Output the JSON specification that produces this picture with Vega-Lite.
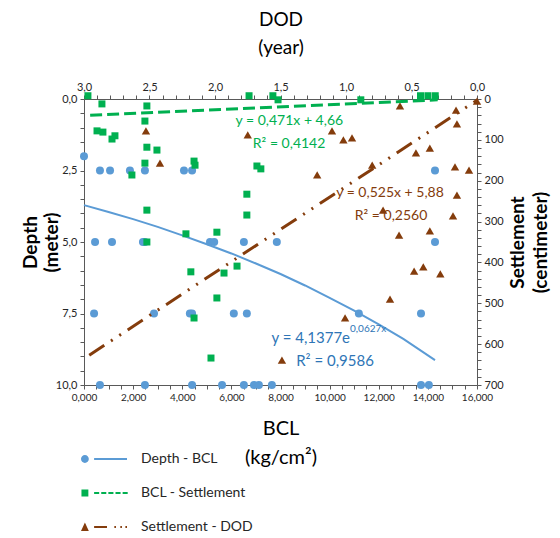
{
  "$schema": "https://vega.github.io/schema/vega-lite/v6.json",
  "width": 393,
  "height": 286,
  "autosize": {"type": "none"},
  "padding": {"left": 84, "top": 99, "right": 83, "bottom": 153},
  "background": "white",
  "config": {
    "font": "Lato",
    "view": {"stroke": null},
    "axis": {
      "domainColor": "#595959",
      "tickColor": "#595959",
      "labelColor": "#262626",
      "titleColor": "#000000",
      "grid": false,
      "labelOverlap": false,
      "labelFlush": false,
      "labelBound": false,
      "titleFontWeight": "normal",
      "labelFont": "Lato",
      "titleFont": "Lato"
    },
    "legend": {
      "orient": "none",
      "legendX": -3,
      "legendY": 337,
      "padding": 0,
      "direction": "vertical",
      "symbolSize": 2116,
      "symbolStrokeWidth": 0,
      "labelFont": "Lato",
      "labelFontSize": 14,
      "labelColor": "#262626",
      "labelOffset": 14,
      "rowPadding": 4
    }
  },
  "datasets": {
    "depthPts": [
      {"bcl": 0.0, "depth": 2.0, "series": "Depth - BCL"},
      {"bcl": 0.65, "depth": 2.5, "series": "Depth - BCL"},
      {"bcl": 1.06, "depth": 2.5, "series": "Depth - BCL"},
      {"bcl": 1.87, "depth": 2.5, "series": "Depth - BCL"},
      {"bcl": 2.48, "depth": 2.5, "series": "Depth - BCL"},
      {"bcl": 4.07, "depth": 2.5, "series": "Depth - BCL"},
      {"bcl": 4.4, "depth": 2.5, "series": "Depth - BCL"},
      {"bcl": 14.29, "depth": 2.5, "series": "Depth - BCL"},
      {"bcl": 0.45, "depth": 5, "series": "Depth - BCL"},
      {"bcl": 1.14, "depth": 5, "series": "Depth - BCL"},
      {"bcl": 2.4, "depth": 5, "series": "Depth - BCL"},
      {"bcl": 2.48, "depth": 5, "series": "Depth - BCL"},
      {"bcl": 5.13, "depth": 5, "series": "Depth - BCL"},
      {"bcl": 5.3, "depth": 5, "series": "Depth - BCL"},
      {"bcl": 6.51, "depth": 5, "series": "Depth - BCL"},
      {"bcl": 7.85, "depth": 5, "series": "Depth - BCL"},
      {"bcl": 14.29, "depth": 5, "series": "Depth - BCL"},
      {"bcl": 0.41, "depth": 7.5, "series": "Depth - BCL"},
      {"bcl": 2.85, "depth": 7.5, "series": "Depth - BCL"},
      {"bcl": 4.31, "depth": 7.5, "series": "Depth - BCL"},
      {"bcl": 4.4, "depth": 7.5, "series": "Depth - BCL"},
      {"bcl": 6.1, "depth": 7.5, "series": "Depth - BCL"},
      {"bcl": 6.63, "depth": 7.5, "series": "Depth - BCL"},
      {"bcl": 11.19, "depth": 7.5, "series": "Depth - BCL"},
      {"bcl": 13.72, "depth": 7.5, "series": "Depth - BCL"},
      {"bcl": 0.65, "depth": 10, "series": "Depth - BCL"},
      {"bcl": 2.48, "depth": 10, "series": "Depth - BCL"},
      {"bcl": 4.4, "depth": 10, "series": "Depth - BCL"},
      {"bcl": 5.62, "depth": 10, "series": "Depth - BCL"},
      {"bcl": 6.51, "depth": 10, "series": "Depth - BCL"},
      {"bcl": 6.92, "depth": 10, "series": "Depth - BCL"},
      {"bcl": 7.12, "depth": 10, "series": "Depth - BCL"},
      {"bcl": 7.65, "depth": 10, "series": "Depth - BCL"},
      {"bcl": 13.72, "depth": 10, "series": "Depth - BCL"},
      {"bcl": 14.04, "depth": 10, "series": "Depth - BCL"}
    ],
    "depthFit": [
      {"bcl": 0, "depth": 3.71},
      {"bcl": 1, "depth": 3.95},
      {"bcl": 2, "depth": 4.2},
      {"bcl": 3, "depth": 4.47},
      {"bcl": 4, "depth": 4.77},
      {"bcl": 5, "depth": 5.08},
      {"bcl": 6, "depth": 5.4},
      {"bcl": 7, "depth": 5.75},
      {"bcl": 8, "depth": 6.12},
      {"bcl": 9, "depth": 6.52},
      {"bcl": 10, "depth": 6.95},
      {"bcl": 11, "depth": 7.4},
      {"bcl": 12, "depth": 7.88},
      {"bcl": 13, "depth": 8.39},
      {"bcl": 14.29, "depth": 9.13}
    ],
    "depthText": [
      {"bcl": 10.83, "depth": 8.36, "text": "y = 4,1377e"}
    ],
    "depthR2": [
      {"bcl": 10.22, "depth": 9.16, "text": "R² = 0,9586"}
    ],
    "depthSup": [
      {"bcl": 10.83, "depth": 8.04, "text": "0,0627x"}
    ],
    "greenPts": [
      {"bcl": 0.16, "settlement": -8, "series": "BCL - Settlement"},
      {"bcl": 0.73, "settlement": 12, "series": "BCL - Settlement"},
      {"bcl": 2.56, "settlement": 17, "series": "BCL - Settlement"},
      {"bcl": 2.48, "settlement": 54, "series": "BCL - Settlement"},
      {"bcl": 0.53, "settlement": 78, "series": "BCL - Settlement"},
      {"bcl": 0.77, "settlement": 81, "series": "BCL - Settlement"},
      {"bcl": 1.26, "settlement": 90, "series": "BCL - Settlement"},
      {"bcl": 1.14, "settlement": 98, "series": "BCL - Settlement"},
      {"bcl": 2.56, "settlement": 118, "series": "BCL - Settlement"},
      {"bcl": 2.97, "settlement": 125, "series": "BCL - Settlement"},
      {"bcl": 2.48, "settlement": 157, "series": "BCL - Settlement"},
      {"bcl": 4.48, "settlement": 152, "series": "BCL - Settlement"},
      {"bcl": 4.52, "settlement": 162, "series": "BCL - Settlement"},
      {"bcl": 1.95, "settlement": 186, "series": "BCL - Settlement"},
      {"bcl": 2.56, "settlement": 272, "series": "BCL - Settlement"},
      {"bcl": 4.15, "settlement": 330, "series": "BCL - Settlement"},
      {"bcl": 2.56, "settlement": 350, "series": "BCL - Settlement"},
      {"bcl": 5.41, "settlement": 326, "series": "BCL - Settlement"},
      {"bcl": 6.72, "settlement": -8, "series": "BCL - Settlement"},
      {"bcl": 7.69, "settlement": -8, "series": "BCL - Settlement"},
      {"bcl": 7.9, "settlement": 2, "series": "BCL - Settlement"},
      {"bcl": 7.04, "settlement": 164, "series": "BCL - Settlement"},
      {"bcl": 7.2, "settlement": 171, "series": "BCL - Settlement"},
      {"bcl": 6.63, "settlement": 233, "series": "BCL - Settlement"},
      {"bcl": 6.63, "settlement": 284, "series": "BCL - Settlement"},
      {"bcl": 11.27, "settlement": 2, "series": "BCL - Settlement"},
      {"bcl": 13.7, "settlement": -8, "series": "BCL - Settlement"},
      {"bcl": 14.0, "settlement": -8, "series": "BCL - Settlement"},
      {"bcl": 14.3, "settlement": -8, "series": "BCL - Settlement"},
      {"bcl": 4.35, "settlement": 423, "series": "BCL - Settlement"},
      {"bcl": 4.48, "settlement": 536, "series": "BCL - Settlement"},
      {"bcl": 5.17, "settlement": 634, "series": "BCL - Settlement"},
      {"bcl": 5.41, "settlement": 487, "series": "BCL - Settlement"},
      {"bcl": 5.7, "settlement": 426, "series": "BCL - Settlement"},
      {"bcl": 6.23, "settlement": 409, "series": "BCL - Settlement"}
    ],
    "greenFit": [
      {"bcl": 0.25, "settlement": 40},
      {"bcl": 14.4, "settlement": 2}
    ],
    "greenText": [
      {"bcl": 8.36, "settlement": 54, "text": "y = 0,471x + 4,66"},
      {"bcl": 8.35, "settlement": 110, "text": "R² = 0,4142"}
    ],
    "brownPts": [
      {"dod": 2.527, "settlement": 78, "series": "Settlement - DOD"},
      {"dod": 2.42, "settlement": 157, "series": "Settlement - DOD"},
      {"dod": 1.75, "settlement": 88, "series": "Settlement - DOD"},
      {"dod": 1.107, "settlement": 78, "series": "Settlement - DOD"},
      {"dod": 1.02, "settlement": 100, "series": "Settlement - DOD"},
      {"dod": 0.954, "settlement": 95, "series": "Settlement - DOD"},
      {"dod": 1.22, "settlement": 186, "series": "Settlement - DOD"},
      {"dod": 0.588, "settlement": 17, "series": "Settlement - DOD"},
      {"dod": 0.16, "settlement": 27, "series": "Settlement - DOD"},
      {"dod": 0.153, "settlement": 61, "series": "Settlement - DOD"},
      {"dod": 0.466, "settlement": 132, "series": "Settlement - DOD"},
      {"dod": 0.36, "settlement": 120, "series": "Settlement - DOD"},
      {"dod": 0.8, "settlement": 162, "series": "Settlement - DOD"},
      {"dod": 0.168, "settlement": 166, "series": "Settlement - DOD"},
      {"dod": 0.061, "settlement": 174, "series": "Settlement - DOD"},
      {"dod": 0.153, "settlement": 235, "series": "Settlement - DOD"},
      {"dod": 0.717, "settlement": 272, "series": "Settlement - DOD"},
      {"dod": 0.183, "settlement": 286, "series": "Settlement - DOD"},
      {"dod": 0.595, "settlement": 333, "series": "Settlement - DOD"},
      {"dod": 0.36, "settlement": 323, "series": "Settlement - DOD"},
      {"dod": 0.48, "settlement": 421, "series": "Settlement - DOD"},
      {"dod": 0.41, "settlement": 411, "series": "Settlement - DOD"},
      {"dod": 0.28, "settlement": 428, "series": "Settlement - DOD"},
      {"dod": 0.664, "settlement": 490, "series": "Settlement - DOD"},
      {"dod": 1.007, "settlement": 536, "series": "Settlement - DOD"},
      {"dod": 1.489, "settlement": 639, "series": "Settlement - DOD"},
      {"dod": 0.0, "settlement": 5, "series": "Settlement - DOD"}
    ],
    "brownFit": [
      {"dod": 2.96, "settlement": 627},
      {"dod": 0.0, "settlement": 3}
    ],
    "brownText": [
      {"dod": 0.664, "settlement": 230, "text": "y = 0,525x + 5,88"},
      {"dod": 0.656, "settlement": 287, "text": "R² = 0,2560"}
    ],
    "legendRows": [
      {"series": "Depth - BCL"},
      {"series": "BCL - Settlement"},
      {"series": "Settlement - DOD"}
    ]
  },
  "layer": [
    {
      "encoding": {
        "x": {
          "field": "bcl", "type": "quantitative",
          "scale": {"domain": [0, 16], "nice": false, "zero": false},
          "axis": {
            "orient": "bottom",
            "values": [0,0.5,1,1.5,2,2.5,3,3.5,4,4.5,5,5.5,6,6.5,7,7.5,8,8.5,9,9.5,10,10.5,11,11.5,12,12.5,13,13.5,14,14.5,15,15.5,16],
            "labelExpr": "datum.value % 2 === 0 ? replace(format(datum.value, '.3f'), '.', ',') : ''",
            "labelFontSize": 10,
            "ticks": true,
            "tickSize": 4,
            "labelPadding": 3,
            "title": ["BCL", "(kg/cm²)"],
            "titleFontSize": 20,
            "titleLineHeight": 29,
            "titlePadding": 16
          }
        },
        "y": {
          "field": "depth", "type": "quantitative",
          "scale": {"domain": [0, 10], "nice": false, "zero": false, "reverse": true},
          "axis": {
            "orient": "left",
            "values": [0,0.5,1,1.5,2,2.5,3,3.5,4,4.5,5,5.5,6,6.5,7,7.5,8,8.5,9,9.5,10],
            "labelExpr": "datum.value % 2.5 === 0 ? replace(format(datum.value, '.1f'), '.', ',') : ''",
            "labelFontSize": 11,
            "ticks": true,
            "tickSize": 4,
            "labelPadding": 3,
            "title": ["Depth", "(meter)"],
            "titleFontSize": 19,
            "titleFontWeight": "bold",
            "titleLineHeight": 21,
            "titlePadding": -6
          }
        }
      },
      "layer": [
        {
          "data": {"name": "depthFit"},
          "mark": {"type": "line", "color": "#5B9BD5", "strokeWidth": 2}
        },
        {
          "data": {"name": "depthPts"},
          "mark": {"type": "point", "shape": "circle", "filled": true, "size": 64, "opacity": 1},
          "encoding": {
            "color": {
              "field": "series", "type": "nominal",
              "scale": {"domain": ["Depth - BCL", "BCL - Settlement", "Settlement - DOD"], "range": ["#5B9BD5", "#00B050", "#843C0C"]},
              "legend": {"title": null}
            }
          }
        },
        {
          "data": {"name": "depthText"},
          "mark": {"type": "text", "align": "right", "baseline": "middle", "fontSize": 15, "color": "#2E75B6"},
          "encoding": {"text": {"field": "text"}}
        },
        {
          "data": {"name": "depthR2"},
          "mark": {"type": "text", "align": "center", "baseline": "middle", "fontSize": 15, "color": "#2E75B6"},
          "encoding": {"text": {"field": "text"}}
        },
        {
          "data": {"name": "depthSup"},
          "mark": {"type": "text", "align": "left", "baseline": "middle", "fontSize": 10, "color": "#2E75B6"},
          "encoding": {"text": {"field": "text"}}
        },
        {
          "data": {"name": "legendRows"},
          "transform": [{"filter": "false"}],
          "mark": {"type": "point", "filled": true, "opacity": 1},
          "encoding": {
            "color": {
              "field": "series", "type": "nominal",
              "scale": {"domain": ["Depth - BCL", "BCL - Settlement", "Settlement - DOD"], "range": ["#5B9BD5", "#00B050", "#843C0C"]},
              "legend": {"title": null}
            },
            "shape": {
              "field": "series", "type": "nominal",
              "scale": {
                "domain": ["Depth - BCL", "BCL - Settlement", "Settlement - DOD"],
                "range": [
                  "M-1,0A0.17,0.17,0,1,0,-0.66,0A0.17,0.17,0,1,0,-1,0Z M-0.43,-0.045H1V0.045H-0.43Z",
                  "M-0.98,-0.15H-0.68V0.15H-0.98Z M-0.43,-0.045H-0.21V0.045H-0.43Z M-0.12,-0.045H0.1V0.045H-0.12Z M0.19,-0.045H0.41V0.045H0.19Z M0.5,-0.045H0.72V0.045H0.5Z M0.81,-0.045H1.03V0.045H0.81Z",
                  "M-1,0.17L-0.66,0.17L-0.83,-0.2Z M-0.43,-0.045H0.13V0.045H-0.43Z M0.45,-0.045H0.52V0.045H0.45Z M0.71,-0.045H0.78V0.045H0.71Z M0.93,-0.045H1V0.045H0.93Z"
                ]
              },
              "legend": {"title": null}
            }
          }
        }
      ]
    },
    {
      "encoding": {
        "x": {
          "field": "dod", "type": "quantitative",
          "scale": {"domain": [0, 3], "nice": false, "zero": false, "reverse": true},
          "axis": {
            "orient": "top",
            "values": [0,0.1,0.2,0.3,0.4,0.5,0.6,0.7,0.8,0.9,1,1.1,1.2,1.3,1.4,1.5,1.6,1.7,1.8,1.9,2,2.1,2.2,2.3,2.4,2.5,2.6,2.7,2.8,2.9,3],
            "labelExpr": "abs(datum.value * 2 - round(datum.value * 2)) < 0.001 ? replace(format(datum.value, '.1f'), '.', ',') : ''",
            "labelFontSize": 11,
            "ticks": true,
            "tickSize": 4,
            "labelPadding": 3,
            "title": ["DOD", "(year)"],
            "titleFontSize": 19,
            "titleLineHeight": 28,
            "titlePadding": 24
          }
        },
        "y": {
          "field": "settlement", "type": "quantitative",
          "scale": {"domain": [0, 700], "nice": false, "zero": false, "reverse": true},
          "axis": {
            "orient": "right",
            "values": [0,20,40,60,80,100,120,140,160,180,200,220,240,260,280,300,320,340,360,380,400,420,440,460,480,500,520,540,560,580,600,620,640,660,680,700],
            "labelExpr": "datum.value % 100 === 0 ? format(datum.value, 'd') : ''",
            "labelFontSize": 11,
            "ticks": true,
            "tickSize": 4,
            "labelPadding": 3,
            "title": ["Settlement", "(centimeter)"],
            "titleAngle": -90,
            "titleFontSize": 19,
            "titleFontWeight": "bold",
            "titleLineHeight": 23,
            "titlePadding": 1
          }
        }
      },
      "layer": [
        {
          "data": {"name": "brownFit"},
          "mark": {"type": "line", "color": "#843C0C", "strokeWidth": 3, "strokeDash": [18, 8, 2, 8, 2, 8]}
        },
        {
          "data": {"name": "brownPts"},
          "mark": {"type": "point", "shape": "triangle-up", "filled": true, "size": 70, "opacity": 1},
          "encoding": {
            "color": {
              "field": "series", "type": "nominal",
              "scale": {"domain": ["Depth - BCL", "BCL - Settlement", "Settlement - DOD"], "range": ["#5B9BD5", "#00B050", "#843C0C"]},
              "legend": {"title": null}
            }
          }
        },
        {
          "data": {"name": "brownText"},
          "mark": {"type": "text", "align": "center", "baseline": "middle", "fontSize": 14, "color": "#843C0C"},
          "encoding": {"text": {"field": "text"}}
        }
      ]
    },
    {
      "encoding": {
        "x": {"field": "bcl", "type": "quantitative", "scale": {"domain": [0, 16], "nice": false, "zero": false}, "axis": null},
        "y": {"field": "settlement", "type": "quantitative", "scale": {"domain": [0, 700], "nice": false, "zero": false, "reverse": true}, "axis": null}
      },
      "layer": [
        {
          "data": {"name": "greenFit"},
          "mark": {"type": "line", "color": "#00B050", "strokeWidth": 3, "strokeDash": [12, 5]}
        },
        {
          "data": {"name": "greenPts"},
          "mark": {"type": "point", "shape": "square", "filled": true, "size": 49, "opacity": 1},
          "encoding": {
            "color": {
              "field": "series", "type": "nominal",
              "scale": {"domain": ["Depth - BCL", "BCL - Settlement", "Settlement - DOD"], "range": ["#5B9BD5", "#00B050", "#843C0C"]},
              "legend": {"title": null}
            }
          }
        },
        {
          "data": {"name": "greenText"},
          "mark": {"type": "text", "align": "center", "baseline": "middle", "fontSize": 14, "color": "#00B050"},
          "encoding": {"text": {"field": "text"}}
        }
      ]
    }
  ],
  "resolve": {
    "scale": {"x": "independent", "y": "independent"},
    "axis": {"x": "independent", "y": "independent"}
  }
}
